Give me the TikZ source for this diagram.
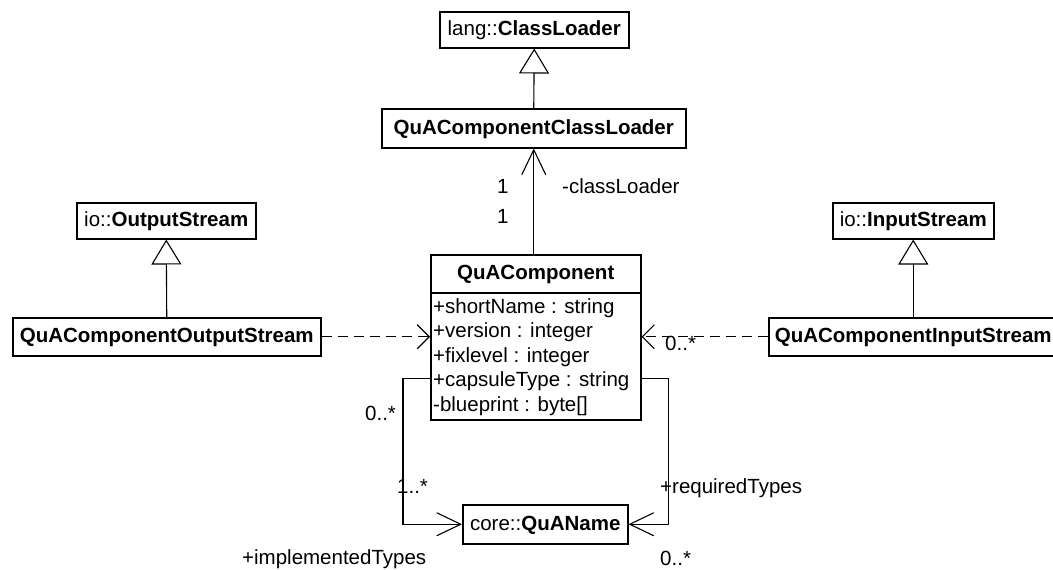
\documentclass[tikz,border=0pt]{standalone}
\usepackage{fontspec}
\setmainfont{Liberation Sans}
\usetikzlibrary{arrows.meta}

\tikzset{
  classbox/.style={draw, line width=1.5pt, rectangle, inner sep=0pt, anchor=north west,
    text height=15pt, text depth=3pt},
  txt/.style={inner sep=0pt, anchor=base west},
  conn/.style={line width=1.1pt},
  gen/.style={conn, -{Triangle[open, length=25pt, width=30pt, line width=1.1pt]}},
  assoc/.style={conn, -{Straight Barb[length=25pt, width=24pt, line width=1.1pt]}},
  dep/.style={conn, dash pattern=on 10pt off 6pt, -{Straight Barb[length=12pt, width=24pt, line width=1.1pt]}},
}

\begin{document}
\begin{tikzpicture}[x=1pt, y=-1pt, font=\fontsize{20.5}{24.5}\selectfont]
\useasboundingbox (0,0) rectangle (1053,570);
\clip (0,0) rectangle (1053,570);
\fill[white] (0,0) rectangle (1053,570);

% classes
\node[classbox, minimum width=189pt, minimum height=36pt] (lang) at (439,11) {lang::\textbf{ClassLoader}};
\node[classbox, minimum width=304pt, minimum height=39pt] (qccl) at (381,108) {\textbf{QuAComponentClassLoader}};
\node[classbox, minimum width=210pt, minimum height=38pt] (qchead) at (430,254) {\textbf{QuAComponent}};
\node[classbox, minimum width=210pt, minimum height=127pt] (qcattr) at (430,292) {};
\node[classbox, minimum width=165pt, minimum height=39pt] (qn) at (462,504) {core::\textbf{QuAName}};
\node[classbox, minimum width=179pt, minimum height=36pt] (ios) at (76,202) {io::\textbf{OutputStream}};
\node[classbox, minimum width=308pt, minimum height=38pt] (qcos) at (12,317) {\textbf{QuAComponentOutputStream}};
\node[classbox, minimum width=161pt, minimum height=36pt] (iis) at (832,202) {io::\textbf{InputStream}};
\node[classbox, minimum width=289pt, minimum height=38pt] (qcis) at (768,317) {\textbf{QuAComponentInputStream}};

% attributes of QuAComponent
\node[txt] (a1) at (433,313) {+shortName : string};
\node[txt] (a2) at (433,337.5) {+version : integer};
\node[txt] (a3) at (433,362) {+fixlevel : integer};
\node[txt] (a4) at (433,386.5) {+capsuleType : string};
\node[txt] (a5) at (433,411) {-blueprint : byte[]};

% generalizations
\draw[gen] (qccl.north) -- (lang.south);
\draw[gen] (qcos.north) -- (ios.south);
\draw[gen] (qcis.north) -- (iis.south);

% association to the class loader
\draw[assoc] (qccl.south |- qchead.north) -- (qccl.south);
\node[txt] (m1) at (497,193) {1};
\node[txt] (m2) at (497,223) {1};
\node[txt] (rcl) at (562,193) {-classLoader};

% dependencies
\node[txt] (m3) at (665,350) {0..*};
\draw[dep] (qcos.east) -- (qcos.east -| qcattr.west);
\draw[dep] (qcis.west) -- (qcis.west -| qcattr.east);

% associations to QuAName
\draw[assoc, -{Straight Barb[length=24pt, width=23pt, line width=1.1pt]}]
  ([yshift=-22.5pt]qcattr.west) -- ++(-27,0) |- (qn.west);
\draw[assoc, -{Straight Barb[length=24pt, width=23pt, line width=1.1pt]}]
  ([yshift=-22.5pt]qcattr.east) -- ++(27,0) |- (qn.east);
\node[txt] (m4) at (365,420) {0..*};
\node[txt] (m5) at (397,493) {1..*};
\node[txt] (rimpl) at (242,564) {+implementedTypes};
\node[txt] (rreq) at (660,493) {+requiredTypes};
\node[txt] (m6) at (660,565) {0..*};
\end{tikzpicture}
\end{document}
